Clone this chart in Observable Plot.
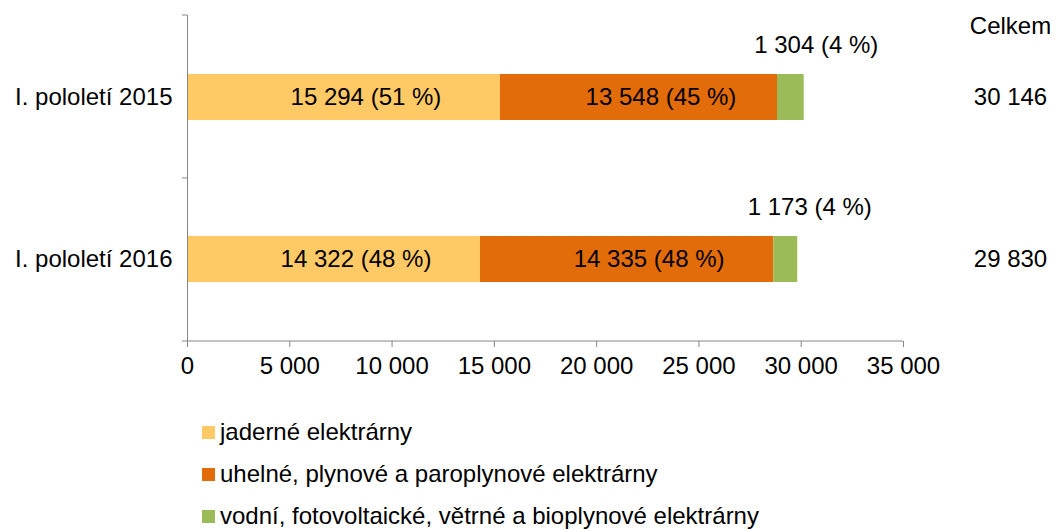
<!DOCTYPE html>
<html><head><meta charset="utf-8">
<script src="https://cdn.jsdelivr.net/npm/d3@7"></script>
<script src="https://cdn.jsdelivr.net/npm/@observablehq/plot@0.6"></script>
<style>
body{margin:0;background:#fff;font-family:"Liberation Sans",Arial,sans-serif;}
#legend{margin-left:202px;font-size:24px;color:#000;margin-top:16px}
.item{display:flex;align-items:center;height:42px}
.sw{width:13px;height:13px;margin-right:5px;flex:none}
</style></head><body><div id="chart"></div><div id="legend"></div>
<script>
const periods = ["I. pololetí 2015", "I. pololetí 2016"];
const seriesNames = ["jaderné elektrárny", "uhelné, plynové a paroplynové elektrárny", "vodní, fotovoltaické, větrné a bioplynové elektrárny"];
const colors = ["#FFCA66", "#E26B0A", "#9BBB59"];
const nuclear = [15294, 14322];
const fossil = [13548, 14335];
const renewable = [1304, 1173];
const nuclearShare = [51, 48];
const fossilShare = [45, 48];
const renewableShare = [4, 4];
const totals = [30146, 29830];
const totalTitle = "Celkem";
const xTicks = [0, 5000, 10000, 15000, 20000, 25000, 30000, 35000];

const FS = 24;
const fmt = v => d3.format(",")(v).replace(/,/g, " ");
const values = [nuclear, fossil, renewable];
const shares = [nuclearShare, fossilShare, renewableShare];
const rows = [];
periods.forEach((p, i) => seriesNames.forEach((s, j) => rows.push({period: p, series: s, value: values[j][i], share: shares[j][i]})));
const label = d => `${fmt(d.value)} (${d.share} %)`;
const totalRows = periods.map((p, i) => ({period: p, total: totals[i]}));

function axisLines(index, scales, values, dims) {
  const y = scales.y;
  const bw = typeof y.bandwidth === "function" ? y.bandwidth() : (y.bandwidth || 0);
  const c0 = y(periods[0]), c1 = y(periods[1]);
  const bottom = dims.height - dims.marginBottom;
  const ys = [dims.marginTop, (c0 + bw + c1) / 2, bottom];
  const g = d3.create("svg:g").attr("stroke", "#868686");
  g.selectAll("line.t").data(ys).join("line").attr("class", "t")
    .attr("x1", dims.marginLeft - 5).attr("x2", dims.marginLeft)
    .attr("y1", d => d).attr("y2", d => d);
  g.append("line")
    .attr("x1", dims.marginLeft).attr("x2", dims.width - dims.marginRight)
    .attr("y1", bottom).attr("y2", bottom);
  return g.node();
}

const chart = Plot.plot({
  width: 1058,
  height: 395,
  marginTop: 15,
  marginBottom: 54,
  marginLeft: 187,
  marginRight: 155,
  style: {fontFamily: "'Liberation Sans', Arial, sans-serif", fontSize: FS + "px", color: "#000", background: "#fff"},
  x: {domain: [0, 35000], label: null},
  y: {domain: periods, paddingInner: 0.717, paddingOuter: 0.36, label: null},
  color: {domain: seriesNames, range: colors},
  marks: [
    Plot.barX(rows, Plot.stackX({x: "value", y: "period", fill: "series", order: seriesNames})),
    Plot.ruleX([0], {stroke: "#868686"}),
    axisLines,
    Plot.axisY({tickSize: 0, tickPadding: 15, fontSize: FS, fill: "#000"}),
    Plot.axisX({ticks: xTicks, tickFormat: fmt, tickSize: 6, tickPadding: 9, stroke: "#868686", fill: "#000", fontSize: FS}),
    Plot.textX(rows, Plot.stackX({x: "value", y: "period", z: "series", order: seriesNames, text: d => d.series !== seriesNames[2] ? label(d) : null, dx: 22, fontSize: FS, fill: "#000"})),
    Plot.textX(rows, Plot.stackX2({x: "value", y: "period", z: "series", order: seriesNames, text: d => d.series === seriesNames[2] ? label(d) : null, dx: 12, dy: -52, fontSize: FS, fill: "#000"})),
    Plot.text(totalRows, {y: "period", text: d => fmt(d.total), frameAnchor: "right", dx: 107, textAnchor: "middle", fontSize: FS, fill: "#000"}),
    Plot.text([totalTitle], {frameAnchor: "top-right", lineAnchor: "middle", dx: 107, dy: 11, textAnchor: "middle", fontSize: FS, fill: "#000"})
  ]
});
document.getElementById("chart").appendChild(chart);

const legend = d3.select("#legend");
seriesNames.forEach((s, i) => {
  const it = legend.append("div").attr("class", "item");
  it.append("span").attr("class", "sw").style("background", colors[i]);
  it.append("span").text(s);
});
</script></body></html>
